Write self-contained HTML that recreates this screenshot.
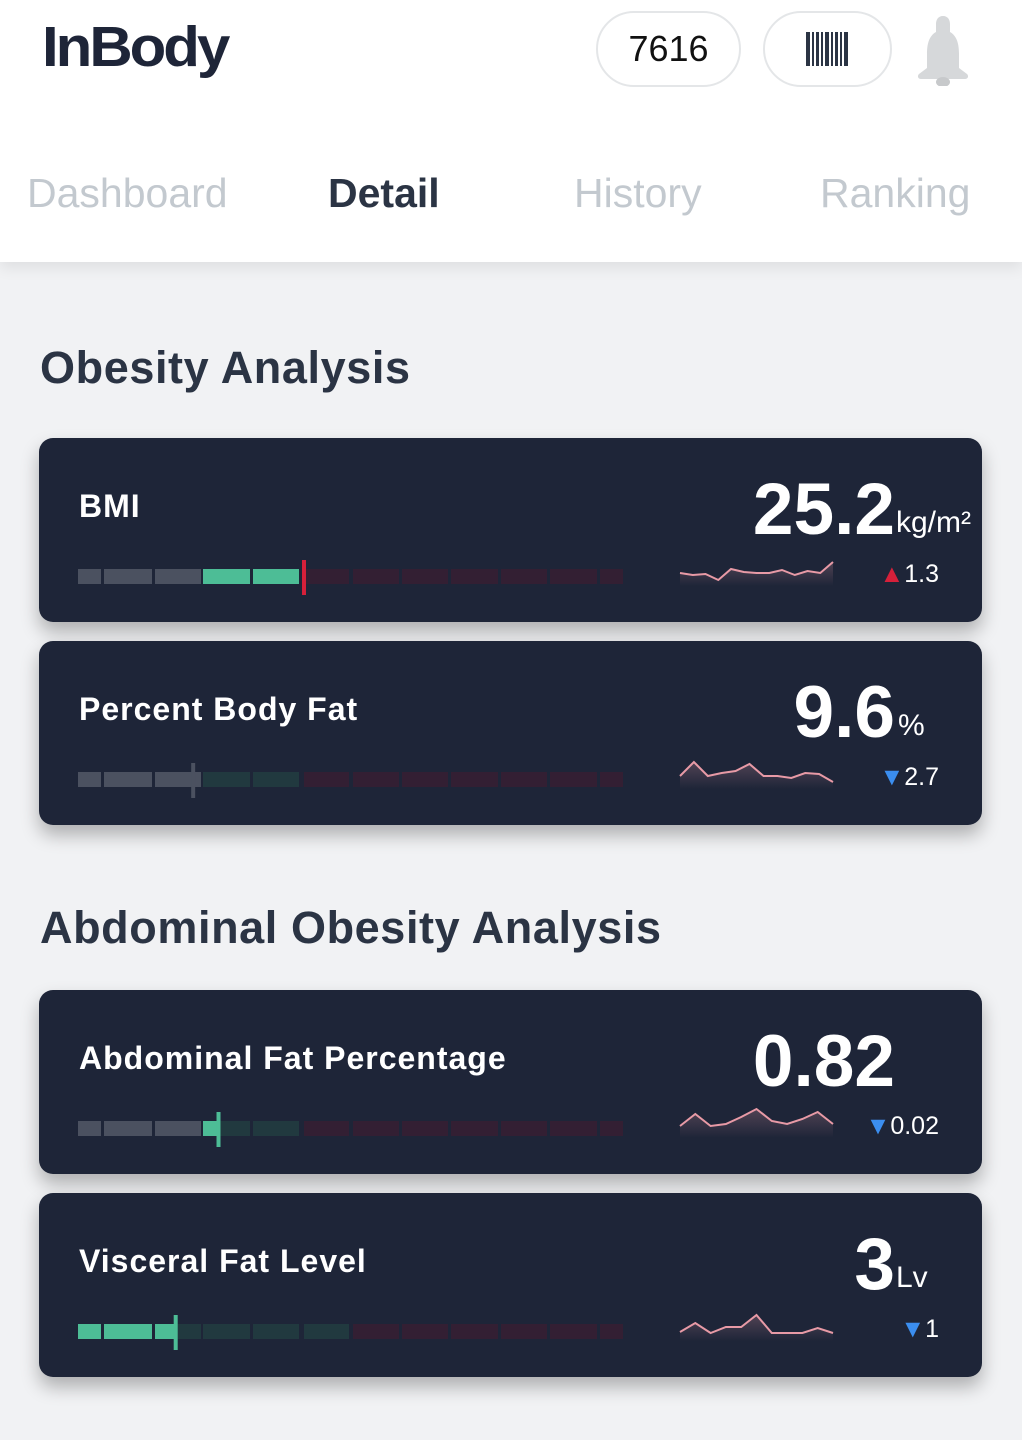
<!DOCTYPE html>
<html><head><meta charset="utf-8">
<style>
*{box-sizing:border-box;margin:0;padding:0}
body{width:1022px;height:1440px;overflow:hidden;background:#f1f2f4;font-family:"Liberation Sans",sans-serif;position:relative}
.hdr{position:absolute;left:0;top:0;width:1022px;height:262px;background:#fff;box-shadow:0 6px 14px rgba(0,0,0,.08)}
.logo{position:absolute;left:42px;top:12px;font-size:60px;font-weight:bold;color:#1e2538;letter-spacing:-3px;transform:scaleY(0.95)}
.pill{position:absolute;top:11px;height:76px;border:2px solid #e4e6e8;border-radius:38px;display:flex;align-items:center;justify-content:center}
.tab{position:absolute;top:170px;font-size:41px;color:#c3c9cf}
.sec{position:absolute;left:40px;font-size:45px;font-weight:bold;color:#2b3444;letter-spacing:0.6px}
.card{position:absolute;left:39px;width:943px;height:184px;background:#1e2538;border-radius:14px;box-shadow:0 10px 18px rgba(0,0,0,.28)}
.ct{position:absolute;left:40px;top:50px;font-size:32px;font-weight:bold;color:#fff;letter-spacing:1px}
.val{position:absolute;right:87px;top:30px;font-size:73px;font-weight:bold;color:#fff;text-align:right;white-space:nowrap}
.unit{position:absolute;left:857px;top:68px;font-size:30px;color:#fff;white-space:nowrap}
.delta{position:absolute;right:43px;top:122px;font-size:25px;color:#fff;white-space:nowrap}
.delta span{font-size:25px}
svg.g{position:absolute;left:0;top:0}
</style></head><body>
<div class="hdr">
 <div class="logo">InBody</div>
 <div class="pill" style="left:596px;width:145px;font-size:36px;color:#111">7616</div>
 <div class="pill" style="left:763px;width:129px">
  <svg width="44" height="34"><g fill="#2b3444"><rect x="0" y="0" width="4" height="34"/><rect x="6" y="0" width="2" height="34"/><rect x="10" y="0" width="3" height="34"/><rect x="15" y="0" width="2" height="34"/><rect x="19" y="0" width="4" height="34"/><rect x="25" y="0" width="2" height="34"/><rect x="29" y="0" width="3" height="34"/><rect x="34" y="0" width="2" height="34"/><rect x="38" y="0" width="4" height="34"/></g></svg>
 </div>
 <svg style="position:absolute;left:914px;top:14px" width="58" height="72"><path d="M29 2c-5 0-7 4-7 8v8c-7 4-9 12-9 22v14l-8 6c-2 2-1 5 2 5h44c3 0 4-3 2-5l-8-6V40c0-10-2-18-9-22v-8c0-4-2-8-7-8z" fill="#d6d8da"/><ellipse cx="29" cy="68" rx="7" ry="5" fill="#c7c9cb"/></svg>
 <div class="tab" style="left:27px">Dashboard</div>
 <div class="tab" style="left:328px;color:#2b3444;font-weight:bold">Detail</div>
 <div class="tab" style="left:574px">History</div>
 <div class="tab" style="left:820px">Ranking</div>
</div>
<div class="sec" style="top:342px">Obesity Analysis</div>
<div class="sec" style="top:902px">Abdominal Obesity Analysis</div>

<div class="card" style="top:438px">
 <div class="ct">BMI</div>
 <div class="val">25.2</div>
 <div class="unit">kg/m²</div>
 <div class="delta"><span style="color:#d6203a">▲</span>1.3</div>
</div>
<div class="card" style="top:641px">
 <div class="ct">Percent Body Fat</div>
 <div class="val">9.6</div>
 <div class="unit" style="left:859px">%</div>
 <div class="delta"><span style="color:#3b8ef0">▼</span>2.7</div>
</div>
<div class="card" style="top:990px">
 <div class="ct">Abdominal Fat Percentage</div>
 <div class="val">0.82</div>
 <div class="delta"><span style="color:#3b8ef0">▼</span>0.02</div>
</div>
<div class="card" style="top:1193px">
 <div class="ct">Visceral Fat Level</div>
 <div class="val">3</div>
 <div class="unit">Lv</div>
 <div class="delta"><span style="color:#3b8ef0">▼</span>1</div>
</div>

<script>
const segStarts=[39,65,116,164,214,265,314,363,412,462,511,561];
const segEnds=[62,113,162,211,260,310,360,409,459,508,558,584];
const zonesBMI=[0,0,0,1,1,2,2,2,2,2,2,2];
const zonesPBF=[0,0,0,1,1,2,2,2,2,2,2,2];
const zonesAFP=[0,0,0,1,1,2,2,2,2,2,2,2];
const zonesVFL=[1,1,1,1,1,1,2,2,2,2,2,2];
const valueBMI=5.0, valuePBF=2.83, valueAFP=3.33, valueVFL=2.45;
const sparkBMI=[13,11,12,6,17,14,13,13,16,11,15,13,24];
const sparkPBF=[13,27,13,16,18,25,13,13,11,16,15,7];
const sparkAFP=[12,24,12,14,21,29,17,14,19,26,14];
const sparkVFL=[9,18,8,14,14,26,8,8,8,13,8];

const colors={0:['#4b5160','#4b5160'],1:['#4dbd96','#21393f'],2:['#331f33','#331f33']};
const markColor={0:'#4b5160',1:'#4dbd96',2:'#d6203a'};
const NS='http://www.w3.org/2000/svg';
function segX(v){const i=Math.min(11,Math.floor(v));const f=v-i;return segStarts[i]+(segEnds[i]-segStarts[i])*f;}
function build(card,zones,value,spark,name,minV,maxV){
 const svg=document.createElementNS(NS,'svg');
 svg.setAttribute('class','g');svg.setAttribute('width','943');svg.setAttribute('height','184');
 
 
 const vx=segX(value);
 const vi=Math.floor(value);
 zones.forEach((z,i)=>{
  const r=document.createElementNS(NS,'rect');
  r.setAttribute('x',segStarts[i]);r.setAttribute('y',131);
  r.setAttribute('width',segEnds[i]-segStarts[i]);r.setAttribute('height',15);
  r.setAttribute('fill',colors[z][1]);
  
  
  svg.appendChild(r);
  if(i<=vi){
   const f=document.createElementNS(NS,'rect');
   const end=i<vi?segEnds[i]:vx;
   if(end>segStarts[i]){
    f.setAttribute('x',segStarts[i]);f.setAttribute('y',131);
    f.setAttribute('width',end-segStarts[i]);f.setAttribute('height',15);
    f.setAttribute('fill',colors[z][0]);
    
    
    svg.appendChild(f);}
  }
 });
 const m=document.createElementNS(NS,'rect');
 m.setAttribute('x',vx-2);m.setAttribute('y',122);m.setAttribute('width',4);m.setAttribute('height',35);
 m.setAttribute('fill',markColor[zones[Math.min(11,vi)]]);
 
 
 svg.appendChild(m);
 const x0=641,x1=794,base=148,h=36;
 const xs=i=>x0+(x1-x0)*i/(spark.length-1);
 const ys=v=>base-(v-minV)/(maxV-minV)*h;
 const pts=spark.map((v,i)=>xs(i).toFixed(1)+','+ys(v).toFixed(1));
 const gid='gr'+name;
 const defs=document.createElementNS(NS,'defs');
 defs.innerHTML='<linearGradient id="'+gid+'" x1="0" y1="0" x2="0" y2="1"><stop offset="0" stop-color="#e89aa6" stop-opacity="0.25"/><stop offset="1" stop-color="#e89aa6" stop-opacity="0"/></linearGradient>';
 svg.appendChild(defs);
 const area=document.createElementNS(NS,'polygon');
 area.setAttribute('points',x0+','+base+' '+pts.join(' ')+' '+x1+','+base);
 area.setAttribute('fill','url(#'+gid+')');
 
 
 svg.appendChild(area);
 const pl=document.createElementNS(NS,'polyline');
 pl.setAttribute('points',pts.join(' '));
 pl.setAttribute('fill','none');pl.setAttribute('stroke','#e89aa6');pl.setAttribute('stroke-width','2');
 
 
 svg.appendChild(pl);
 card.insertBefore(svg,card.firstChild);
}
const cards=document.querySelectorAll('.card');
build(cards[0],zonesBMI,valueBMI,sparkBMI,'bmi',0,36);
build(cards[1],zonesPBF,valuePBF,sparkPBF,'pbf',0,36);
build(cards[2],zonesAFP,valueAFP,sparkAFP,'abdominal-fat',0,36);
build(cards[3],zonesVFL,valueVFL,sparkVFL,'visceral-fat',0,36);
</script>
</body></html>
